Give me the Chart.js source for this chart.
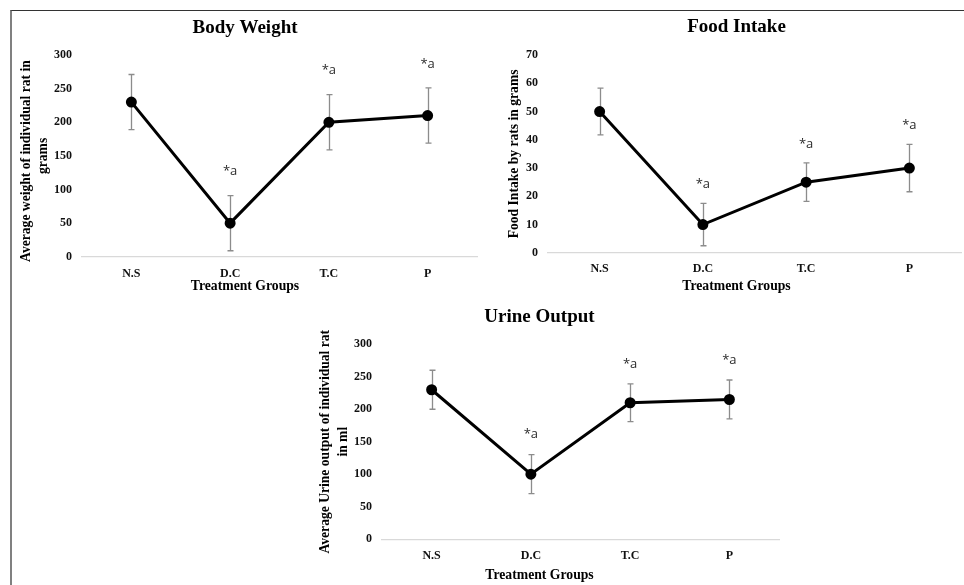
<!DOCTYPE html>
<html>
<head>
<meta charset="utf-8">
<script src="https://cdn.jsdelivr.net/npm/chart.js@4.4.1/dist/chart.umd.min.js"></script>
<style>
  html, body { margin: 0; padding: 0; background: #fff; overflow: hidden; width: 964px; height: 585px; }
  #frame { position: absolute; left: 10px; top: 10px; width: 960px; height: 580px;
           border-top: 1px solid #333; border-left: 2px solid #808080; }
  canvas { position: absolute; }
</style>
</head>
<body>
<div id="frame"></div>
<canvas id="bodyWeightChart" width="474" height="284" style="left:10px;top:11px"></canvas>
<canvas id="foodIntakeChart" width="462" height="284" style="left:506px;top:11px"></canvas>
<canvas id="urineOutputChart" width="504" height="284" style="left:300px;top:300px"></canvas>
<script>
// Treatment groups on the x axis
const groups = ['N.S', 'D.C', 'T.C', 'P'];

// Group means and their error (± SD)
const bodyWeight = [230, 50, 200, 210];
const bodyWeightErr = [41, 41, 41, 41];

const foodIntake = [50, 10, 25, 30];
const foodIntakeErr = [8.3, 7.5, 6.8, 8.4];

const urineOutput = [230, 100, 210, 215];
const urineOutputErr = [30, 30, 29, 30];

// Significance marks above each group
const significance = ['', '*a', '*a', '*a'];

// Y axis tick values
const bodyWeightTicks = [0, 50, 100, 150, 200, 250, 300];
const foodIntakeTicks = [0, 10, 20, 30, 40, 50, 60, 70];
const urineOutputTicks = [0, 50, 100, 150, 200, 250, 300];

const SERIF = "'Liberation Serif', 'Times New Roman', serif";

// Draws vertical error bars behind the line, and significance marks above them
const errorBars = {
  id: 'errorBars',
  beforeDatasetsDraw(chart, args, opts) {
    const { ctx, scales: { x, y } } = chart;
    const values = chart.data.datasets[0].data;
    ctx.save();
    ctx.strokeStyle = '#8c8c8c';
    ctx.lineWidth = 1.3;
    values.forEach((v, i) => {
      const px = Math.round(x.getPixelForValue(i)) + 0.5;
      const top = y.getPixelForValue(v + opts.errors[i]);
      const bot = y.getPixelForValue(v - opts.errors[i]);
      ctx.beginPath();
      ctx.moveTo(px, top); ctx.lineTo(px, bot);
      ctx.moveTo(px - 3, top); ctx.lineTo(px + 3, top);
      ctx.moveTo(px - 3, bot); ctx.lineTo(px + 3, bot);
      ctx.stroke();
    });
    ctx.restore();
  },
  afterDatasetsDraw(chart, args, opts) {
    const { ctx, scales: { x, y } } = chart;
    const values = chart.data.datasets[0].data;
    ctx.save();
    ctx.fillStyle = '#2b2b2b';
    ctx.font = "13px 'Open Sans', sans-serif";
    ctx.textAlign = 'center';
    ctx.textBaseline = 'middle';
    values.forEach((v, i) => {
      if (!opts.labels[i]) return;
      const px = x.getPixelForValue(i);
      const top = y.getPixelForValue(v + opts.errors[i]);
      ctx.fillText(opts.labels[i], px, top - opts.gap);
    });
    ctx.restore();
  }
};

function makeChart(id, cfg) {
  return new Chart(document.getElementById(id), {
    type: 'line',
    data: {
      labels: groups,
      datasets: [{
        data: cfg.values,
        borderColor: '#000',
        borderWidth: 3,
        pointRadius: 4,
        pointBackgroundColor: '#000',
        pointBorderColor: '#000',
        tension: 0,
        clip: false
      }]
    },
    options: {
      responsive: false,
      animation: false,
      devicePixelRatio: 1,
      layout: { padding: { left: 0, right: cfg.padRight, top: 0, bottom: cfg.padBottom } },
      plugins: {
        legend: { display: false },
        tooltip: { enabled: false },
        title: {
          display: true,
          text: cfg.title,
          color: '#000',
          font: { family: SERIF, size: 19, weight: 'bold' },
          padding: { top: cfg.titleTop, bottom: cfg.titleBottom }
        },
        subtitle: {
          display: true,
          position: 'bottom',
          text: 'Treatment Groups',
          color: '#000',
          font: { family: SERIF, size: 13.7, weight: 'bold', lineHeight: 1 },
          padding: { top: cfg.xTitleGap, bottom: 0 }
        },
        errorBars: { errors: cfg.errors, labels: significance, gap: cfg.markGap }
      },
      scales: {
        x: {
          offset: true,
          afterFit: s => { s.height = cfg.xTickPad + 14.4; },
          grid: { display: true, drawOnChartArea: false, drawTicks: false },
          border: { display: true, color: '#d9d9d9', width: 1.2 },
          ticks: { color: '#111', padding: cfg.xTickPad, font: { family: SERIF, size: 12, weight: 'bold' } }
        },
        y: {
          min: 0,
          max: cfg.ticks[cfg.ticks.length - 1],
          afterBuildTicks: s => { s.ticks = cfg.ticks.map(v => ({ value: v })); },
          afterFit: s => { s.width = cfg.yWidth; },
          grid: { display: false, drawTicks: false },
          border: { display: false },
          ticks: { color: '#111', padding: 10, font: { family: SERIF, size: 12, weight: 'bold' } },
          title: {
            display: true,
            text: cfg.yTitle,
            color: '#000',
            font: { family: SERIF, size: 13.6, weight: 'bold', lineHeight: cfg.yTitleLine },
            padding: { top: cfg.yTitlePad, bottom: 0 }
          }
        }
      }
    },
    plugins: [errorBars]
  });
}

makeChart('bodyWeightChart', {
  title: 'Body Weight',
  values: bodyWeight, errors: bodyWeightErr, ticks: bodyWeightTicks,
  yTitle: ['Average weight of individual rat in   ', 'grams'],
  yWidth: 72, yTitlePad: 8, yTitleLine: 1.25,
  padRight: 4, padBottom: 2.1,
  titleTop: 5.6, titleBottom: 15.6,
  xTickPad: 10, xTitleGap: -2, markGap: 24
});

makeChart('foodIntakeChart', {
  title: 'Food Intake',
  values: foodIntake, errors: foodIntakeErr, ticks: foodIntakeTicks,
  yTitle: 'Food Intake by rats in grams',
  yWidth: 42, yTitlePad: 0, yTitleLine: 1.25,
  padRight: 1, padBottom: 1.25,
  titleTop: 4.6, titleBottom: 16.6,
  xTickPad: 9, xTitleGap: 3.85, markGap: 19
});

makeChart('urineOutputChart', {
  title: 'Urine Output',
  values: urineOutput, errors: urineOutputErr, ticks: urineOutputTicks,
  yTitle: ['Average Urine output of individual rat', 'in ml'],
  yWidth: 82, yTitlePad: 16.5, yTitleLine: 1.3,
  padRight: 25, padBottom: 1.25,
  titleTop: 5.6, titleBottom: 15.9,
  xTickPad: 9.5, xTitleGap: 6.05, markGap: 20
});
</script>
</body>
</html>
